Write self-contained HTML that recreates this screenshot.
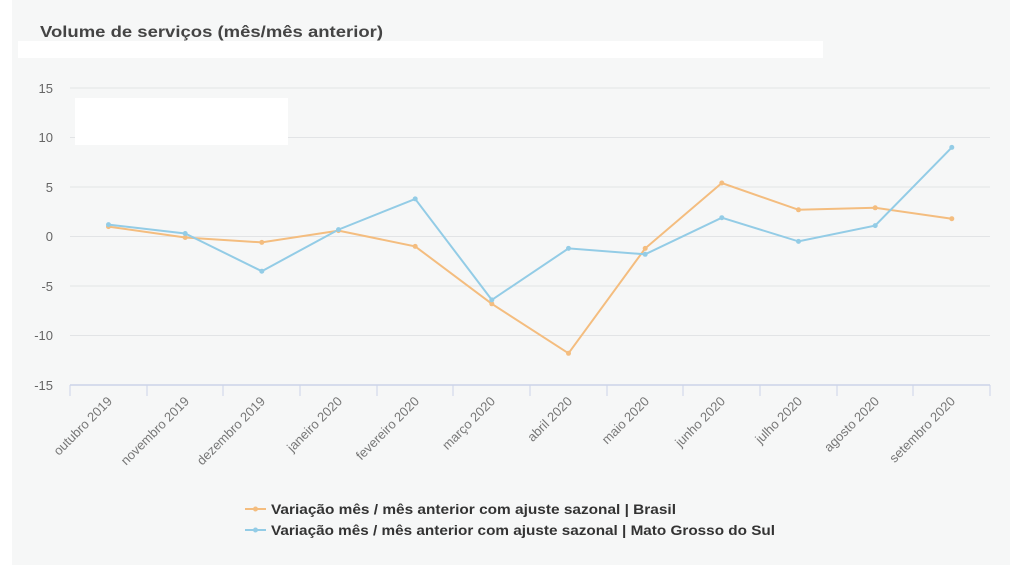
<!DOCTYPE html>
<html><head><meta charset="utf-8"><style>
body{margin:0;background:#fff;width:1024px;height:571px;overflow:hidden;font-family:"Liberation Sans",sans-serif}
</style></head><body>
<svg width="1024" height="571" xmlns="http://www.w3.org/2000/svg" font-family="Liberation Sans, sans-serif">
<rect x="12" y="0" width="998" height="565" fill="#f6f7f7"/>
<rect x="18" y="41" width="805" height="17" fill="#fff"/>
<text x="40" y="37" font-size="16" font-weight="bold" fill="#444" textLength="343" lengthAdjust="spacingAndGlyphs">Volume de serviços (mês/mês anterior)</text>
<g stroke="#e2e4e6" stroke-width="1">
<line x1="70" x2="990" y1="88" y2="88"/><line x1="70" x2="990" y1="137.5" y2="137.5"/>
<line x1="70" x2="990" y1="187" y2="187"/><line x1="70" x2="990" y1="236.5" y2="236.5"/>
<line x1="70" x2="990" y1="286" y2="286"/><line x1="70" x2="990" y1="335.5" y2="335.5"/>
</g>
<rect x="75" y="98" width="213" height="47" fill="#fff"/>
<line x1="70" x2="990" y1="385" y2="385" stroke="#ccd3e8" stroke-width="1.5"/>
<g stroke="#ccd3e8" stroke-width="1">
<line x1="70" x2="70" y1="385" y2="396"/><line x1="147" x2="147" y1="385" y2="396"/><line x1="223" x2="223" y1="385" y2="396"/><line x1="300" x2="300" y1="385" y2="396"/><line x1="377" x2="377" y1="385" y2="396"/><line x1="453" x2="453" y1="385" y2="396"/><line x1="530" x2="530" y1="385" y2="396"/><line x1="607" x2="607" y1="385" y2="396"/><line x1="683" x2="683" y1="385" y2="396"/><line x1="760" x2="760" y1="385" y2="396"/><line x1="837" x2="837" y1="385" y2="396"/><line x1="913" x2="913" y1="385" y2="396"/><line x1="990" x2="990" y1="385" y2="396"/>
</g>
<g font-size="13" fill="#666" text-anchor="end">
<text x="53" y="93">15</text><text x="53" y="142">10</text><text x="53" y="192">5</text><text x="53" y="241">0</text><text x="53" y="291">-5</text><text x="53" y="340">-10</text><text x="53" y="390">-15</text>
</g>
<g font-size="13" fill="#777" text-anchor="end">
<text transform="translate(113,402) rotate(-45)">outubro 2019</text>
<text transform="translate(190,402) rotate(-45)">novembro 2019</text>
<text transform="translate(266,402) rotate(-45)">dezembro 2019</text>
<text transform="translate(343,402) rotate(-45)">janeiro 2020</text>
<text transform="translate(420,402) rotate(-45)">fevereiro 2020</text>
<text transform="translate(496,402) rotate(-45)">março 2020</text>
<text transform="translate(573,402) rotate(-45)">abril 2020</text>
<text transform="translate(650,402) rotate(-45)">maio 2020</text>
<text transform="translate(726,402) rotate(-45)">junho 2020</text>
<text transform="translate(803,402) rotate(-45)">julho 2020</text>
<text transform="translate(880,402) rotate(-45)">agosto 2020</text>
<text transform="translate(956,402) rotate(-45)">setembro 2020</text>
</g>
<polyline fill="none" stroke="#f4bd7f" stroke-width="2" points="108.5,226.6 185.2,237.5 261.8,242.4 338.5,230.6 415.2,246.4 491.8,303.8 568.5,353.3 645.2,248.4 721.8,183 798.5,209.8 875.2,207.8 951.8,218.7"/>
<polyline fill="none" stroke="#93cce6" stroke-width="2" points="108.5,224.6 185.2,233.5 261.8,271.2 338.5,229.6 415.2,198.9 491.8,299.9 568.5,248.4 645.2,254.3 721.8,217.7 798.5,241.4 875.2,225.6 951.8,147.4"/>
<g fill="#f4bd7f">
<circle cx="108.5" cy="226.6" r="2.5"/><circle cx="185.2" cy="237.5" r="2.5"/><circle cx="261.8" cy="242.4" r="2.5"/><circle cx="338.5" cy="230.6" r="2.5"/><circle cx="415.2" cy="246.4" r="2.5"/><circle cx="491.8" cy="303.8" r="2.5"/><circle cx="568.5" cy="353.3" r="2.5"/><circle cx="645.2" cy="248.4" r="2.5"/><circle cx="721.8" cy="183" r="2.5"/><circle cx="798.5" cy="209.8" r="2.5"/><circle cx="875.2" cy="207.8" r="2.5"/><circle cx="951.8" cy="218.7" r="2.5"/>
</g>
<g fill="#93cce6">
<circle cx="108.5" cy="224.6" r="2.5"/><circle cx="185.2" cy="233.5" r="2.5"/><circle cx="261.8" cy="271.2" r="2.5"/><circle cx="338.5" cy="229.6" r="2.5"/><circle cx="415.2" cy="198.9" r="2.5"/><circle cx="491.8" cy="299.9" r="2.5"/><circle cx="568.5" cy="248.4" r="2.5"/><circle cx="645.2" cy="254.3" r="2.5"/><circle cx="721.8" cy="217.7" r="2.5"/><circle cx="798.5" cy="241.4" r="2.5"/><circle cx="875.2" cy="225.6" r="2.5"/><circle cx="951.8" cy="147.4" r="2.5"/>
</g>
<line x1="245" x2="266" y1="509" y2="509" stroke="#f4bd7f" stroke-width="2"/><circle cx="255.5" cy="509" r="2.5" fill="#f4bd7f"/>
<line x1="245" x2="266" y1="530" y2="530" stroke="#93cce6" stroke-width="2"/><circle cx="255.5" cy="530" r="2.5" fill="#93cce6"/>
<g font-size="14" font-weight="bold" fill="#333">
<text x="271" y="514" textLength="405" lengthAdjust="spacingAndGlyphs">Variação mês / mês anterior com ajuste sazonal | Brasil</text>
<text x="271" y="535" textLength="504" lengthAdjust="spacingAndGlyphs">Variação mês / mês anterior com ajuste sazonal | Mato Grosso do Sul</text>
</g>
</svg>
</body></html>
